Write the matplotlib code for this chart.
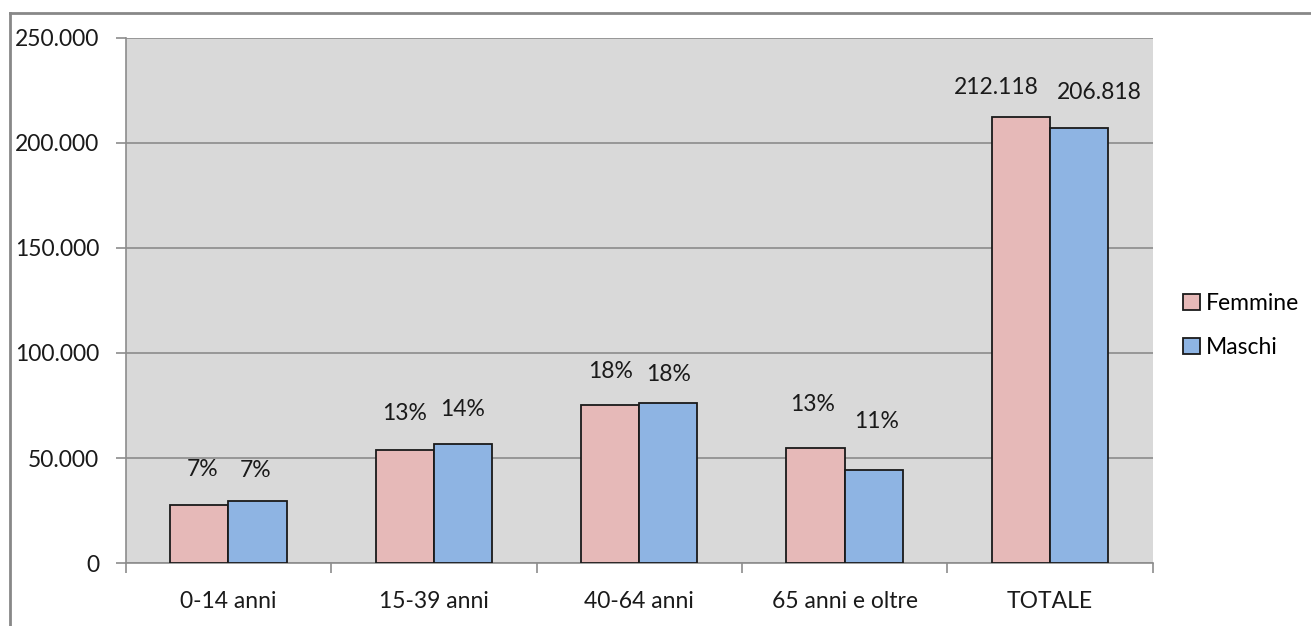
import numpy as np
import matplotlib.pyplot as plt
from matplotlib.lines import Line2D
from matplotlib.ticker import FuncFormatter

# Popolazione per classe di età e sesso
categorie = ["0-14 anni", "15-39 anni", "40-64 anni", "65 anni e oltre", "TOTALE"]
femmine = [27800, 53800, 75500, 55018, 212118]
maschi = [29600, 56800, 76100, 44318, 206818]
etichette_f = ["7%", "13%", "18%", "13%", "212.118"]
etichette_m = ["7%", "14%", "18%", "11%", "206.818"]

# spostamento (px) delle etichette rispetto alla cima delle barre
dy_f = [35, 37, 33, 43, 30]
dy_m = [31, 34, 29, 49, 36]
dx_f = [3, 0, 0, -3, -25]
dx_m = [-2, 0, 0, 3, 20]

col_f = "#e6b9b8"
col_m = "#8eb4e3"
font = "Lato"
fs = 16.5

W, H = 1311, 626
fig = plt.figure(figsize=(W / 100, H / 100), dpi=100)
ax = fig.add_axes([125.7 / W, (H - 563.3) / H, (1152.7 - 125.7) / W, (563.3 - 37.5) / H])
ax.set_facecolor("#d9d9d9")

x = np.arange(len(categorie))
bw = 0.283
bars_f = ax.bar(x - bw / 2, femmine, bw, color=col_f, edgecolor="#1a1a1a", linewidth=1.3,
                label="Femmine", zorder=3)
bars_m = ax.bar(x + bw / 2, maschi, bw, color=col_m, edgecolor="#1a1a1a", linewidth=1.3,
                label="Maschi", zorder=3)

for bars, labels, dxs, dys in [(bars_f, etichette_f, dx_f, dy_f), (bars_m, etichette_m, dx_m, dy_m)]:
    for b, lab, dx, dy in zip(bars, labels, dxs, dys):
        ax.annotate(lab, (b.get_x() + b.get_width() / 2, b.get_height()),
                    xytext=(dx * 0.72, dy * 0.72), textcoords="offset points",
                    ha="center", va="center", fontsize=fs, family=font, color="#1a1a1a")

ax.set_xlim(-0.5, len(categorie) - 0.5)
ax.set_ylim(0, 250000)
ax.set_yticks(np.arange(0, 250001, 50000))
ax.yaxis.set_major_formatter(FuncFormatter(lambda v, p: f"{int(v):,}".replace(",", ".")))
ax.yaxis.grid(True, color="#8c8c8c", linewidth=1.2, zorder=0)
ax.set_axisbelow(True)

ax.set_xticks(x)
ax.set_xticklabels(categorie)
ax.set_xticks(np.arange(len(categorie) + 1) - 0.5, minor=True)
ax.tick_params(axis="x", which="major", length=0, pad=20)
ax.tick_params(axis="x", which="minor", length=7, color="#8c8c8c", width=1.2)
ax.tick_params(axis="y", length=7, color="#8c8c8c", width=1.2, pad=12)
for lab in ax.get_xticklabels() + ax.get_yticklabels():
    lab.set_fontsize(fs)
    lab.set_family(font)
    lab.set_color("#1a1a1a")

for s in ["top", "right"]:
    ax.spines[s].set_visible(False)
for s in ["left", "bottom"]:
    ax.spines[s].set_color("#8c8c8c")
    ax.spines[s].set_linewidth(1.2)

leg = fig.legend(handles=[bars_f, bars_m], loc="upper left",
                 bbox_to_anchor=(1172 / W, 1 - 282 / H), frameon=False,
                 prop={"family": font, "size": fs}, handlelength=0.7, handleheight=0.7,
                 handletextpad=0.3, labelspacing=1.0, borderpad=0)

# cornice esterna del grafico
fig.add_artist(Line2D([10 / W, 1], [1 - 13 / H, 1 - 13 / H], color="#888888", linewidth=2))
fig.add_artist(Line2D([10 / W, 10 / W], [0, 1 - 13 / H], color="#888888", linewidth=2))

fig.savefig("out.png", dpi=100)
